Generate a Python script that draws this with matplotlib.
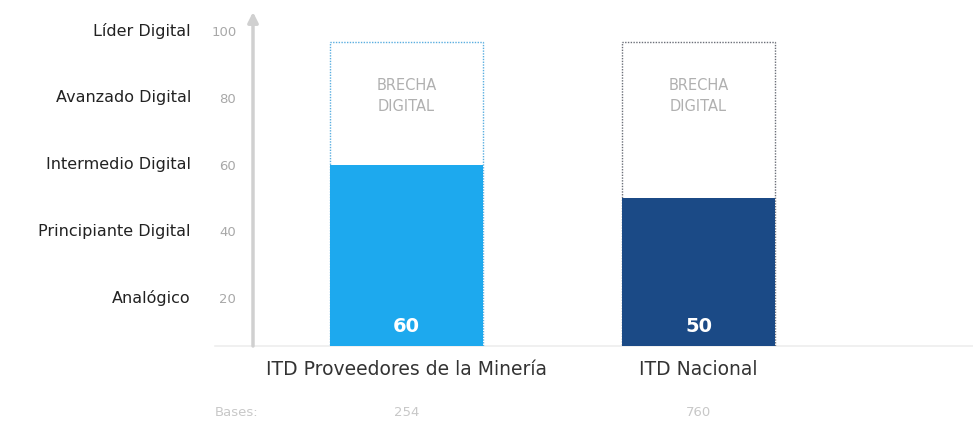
import numpy as np
import matplotlib.pyplot as plt
from matplotlib.transforms import blended_transform_factory

# Data
categories = ['ITD Proveedores de la Minería', 'ITD Nacional']
values = [60, 50]
bases = ['254', '760']
gap_top = 96.7
level_ticks = [20, 40, 60, 80, 100]
level_names = ['Analógico', 'Principiante Digital', 'Intermedio Digital',
               'Avanzado Digital', 'Líder Digital']

bar_colors = ['#1DA9EE', '#1B4A86']
box_edges = ['#5AAEE0', '#6B6F78']

plt.rcParams['font.family'] = ['DejaVu Sans']

fig = plt.figure(figsize=(9.73, 4.22), dpi=100)
ax = fig.add_axes([253 / 973, (422 - 346) / 422, 720 / 973, 334 / 422])

x = np.arange(len(categories))
width = 0.524

# dotted outline showing the gap up to the top level
ax.bar(x, gap_top, width, color='white', edgecolor=box_edges,
       linestyle=(0, (1, 1)), linewidth=1.0, zorder=1)
ax.bar(x, values, width, color=bar_colors, edgecolor='none', zorder=2)

for xi, v in zip(x, values):
    ax.text(xi, 11.5, str(v), ha='center', va='center', color='white',
            fontsize=14, fontweight='bold', zorder=3)
    ax.text(xi, 80.5, 'BRECHA\nDIGITAL', ha='center', va='center',
            color='#B0B0B0', fontsize=10.5, linespacing=1.45, zorder=3)

ax.set_xlim(-0.5257, 1.940)
ax.set_ylim(5.7, 105.7)

for s in ax.spines.values():
    s.set_visible(False)
ax.set_xticks([])
ax.set_yticks(level_ticks)
ax.set_yticklabels([str(t) for t in level_ticks], color='#A8A8A8', fontsize=9.5)
ax.tick_params(axis='y', length=0, pad=12)

# vertical arrow axis
ax.annotate('', xy=(0, 1.0), xytext=(0, 0), xycoords='axes fraction',
            arrowprops=dict(arrowstyle='-|>,head_width=0.3,head_length=0.6',
                            color='#D0D0D0', lw=2.5, shrinkA=0, shrinkB=0))
# baseline
ax.plot([(215 - 253) / 720, 1.0], [0, 0], transform=ax.transAxes,
        color='#EEEEEE', lw=1.2, clip_on=False, zorder=0)

# level names on the left
trans = blended_transform_factory(ax.transAxes, ax.transData)
for t, name in zip(level_ticks, level_names):
    ax.text((191 - 253) / 720, t, name, transform=trans, ha='right',
            va='center', fontsize=11.5, color='#222222')

# category labels and bases under the bars
tx = blended_transform_factory(ax.transData, ax.transAxes)
for xi, cat, b in zip(x, categories, bases):
    ax.text(xi, -0.07, cat, transform=tx, ha='center', va='center',
            fontsize=13.5, color='#333333')
    ax.text(xi, -0.20, b, transform=tx, ha='center', va='center',
            fontsize=9.5, color='#C8C8C8')
ax.text((237 - 253) / 720, -0.20, 'Bases:', transform=ax.transAxes,
        ha='center', va='center', fontsize=9.5, color='#C8C8C8')

fig.savefig('out.png', dpi=100)
